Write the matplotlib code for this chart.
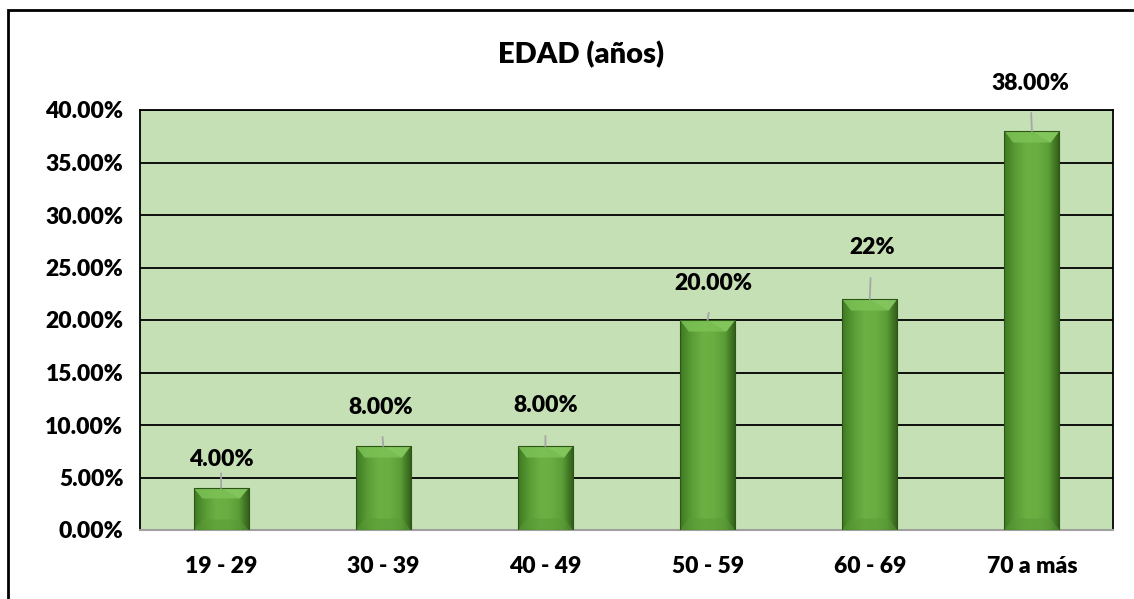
import numpy as np
import matplotlib.pyplot as plt
from matplotlib.patches import Rectangle, Polygon
from matplotlib.colors import LinearSegmentedColormap

plt.rcParams["font.family"] = ["Lato", "DejaVu Sans"]
plt.rcParams["font.weight"] = "heavy"

# ---- data -----------------------------------------------------------------
categories = ["19 - 29", "30 - 39", "40 - 49", "50 - 59", "60 - 69", "70 a más"]
values = [4.0, 8.0, 8.0, 20.0, 22.0, 38.0]          # percent
value_labels = ["4.00%", "8.00%", "8.00%", "20.00%", "22%", "38.00%"]
yticks = [0, 5, 10, 15, 20, 25, 30, 35, 40]

# label offset above bar top (pixels) and small x shift of the leader line
label_dy = [28, 39, 40, 37, 51, 48]
label_dx = [0, -3, 0, 6, 2, -2]

BG = "#c5e0b4"
TXT = dict(fontsize=16.5, fontweight="heavy")
bar_cmap = LinearSegmentedColormap.from_list(
    "bar", ["#3f7a22", "#5a9c36", "#6cb044", "#6aae42", "#5c9e38", "#2f5c18"])

fig = plt.figure(figsize=(11.34, 5.99), dpi=100)
ax = fig.add_axes([140 / 1134, 69 / 599, 973 / 1134, 420 / 599])
ax.set_facecolor(BG)

x = np.arange(len(categories))
width = 0.34
ax.set_xlim(-0.5, len(categories) - 0.5)
ax.set_ylim(0, 40)

for yt in yticks[1:]:
    ax.axhline(yt, color="black", lw=1.3, zorder=1)

grad = np.linspace(0, 1, 64).reshape(1, -1)
for xi, v in zip(x, values):
    x0, x1 = xi - width / 2, xi + width / 2
    ax.imshow(grad, cmap=bar_cmap, aspect="auto", extent=(x0, x1, 0, v),
              zorder=3, interpolation="bicubic")
    # bevels
    bx = width * 0.16
    by = min(1.1, v * 0.25)
    ax.add_patch(Polygon([(x0, v), (x1, v), (x1 - bx, v - by), (x0 + bx, v - by)],
                         closed=True, facecolor="#7cc255", edgecolor="none",
                         alpha=0.85, zorder=4))
    ax.add_patch(Polygon([(xi, v), (x1, v), (x1 - bx, v - by)],
                         closed=True, facecolor="#8ccc66", edgecolor="none",
                         alpha=0.6, zorder=4))
    ax.add_patch(Polygon([(x0, 0), (x1, 0), (x1 - bx, by), (x0 + bx, by)],
                         closed=True, facecolor="#5a9a36", edgecolor="none",
                         alpha=0.5, zorder=4))
    ax.add_patch(Rectangle((x0, 0), width, v, facecolor="none",
                           edgecolor="#2e5518", lw=0.8, zorder=5))

for xi, v, lab, dy, dx in zip(x, values, value_labels, label_dy, label_dx):
    ax.annotate(lab, xy=(xi, v), xytext=(dx, dy), textcoords="offset pixels",
                ha="center", va="center", color="black", zorder=6,
                arrowprops=dict(arrowstyle="-", color="#a6a6a6", lw=1.3,
                                shrinkA=12, shrinkB=0), **TXT)

ax.set_xticks(x)
ax.set_xticklabels(categories, **TXT)
ax.set_yticks(yticks)
ax.set_yticklabels([f"{t:.2f}%" for t in yticks], **TXT)
ax.tick_params(axis="both", length=0)
ax.tick_params(axis="x", pad=19)
ax.tick_params(axis="y", pad=12)

for s in ["top", "right", "left"]:
    ax.spines[s].set_color("black")
    ax.spines[s].set_linewidth(1.3)
ax.spines["bottom"].set_color("#a0a0a0")
ax.spines["bottom"].set_linewidth(1.5)

fig.text(581 / 1134, 1 - 55 / 599, "EDAD (años)", ha="center", va="center",
         fontsize=21, fontweight="heavy")

fig.add_artist(Rectangle((8 / 1134, -0.05), 1.2, 1 - 10 / 599 + 0.05,
                         transform=fig.transFigure, facecolor="none",
                         edgecolor="black", lw=2))

fig.savefig("out.png", dpi=100)
